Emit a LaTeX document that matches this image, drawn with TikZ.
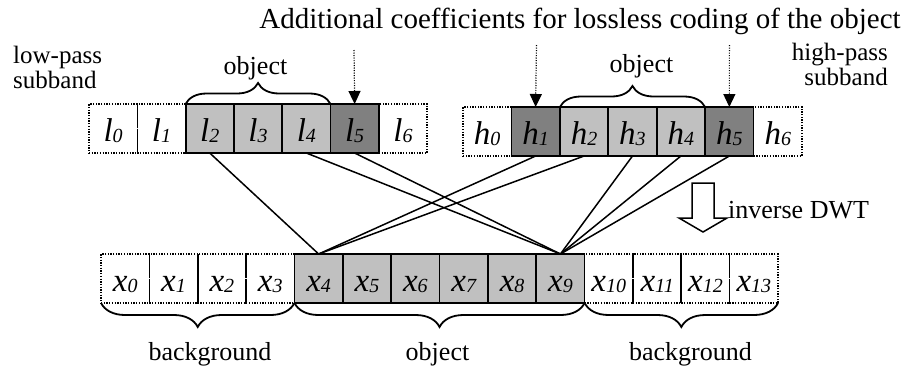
\documentclass[tikz,border=0pt]{standalone}
\usepackage{fontspec}
\setmainfont{Liberation Serif}
\usetikzlibrary{decorations.pathreplacing,arrows.meta}
\definecolor{lightg}{RGB}{192,192,192}
\definecolor{darkg}{RGB}{128,128,128}
\newcommand{\lab}[2]{{\fontsize{33}{33}\selectfont\itshape #1\raisebox{-1.5pt}{\fontsize{20}{20}\selectfont #2}}}
\begin{document}
\begin{tikzpicture}[x=1pt,y=-1pt,
  cellbox/.style={minimum width=48.3pt,minimum height=49pt,inner sep=0pt,outer sep=0pt,
                  text height=25pt,text depth=0pt,anchor=center},
  solidcell/.style={cellbox,draw=black,line width=1.8pt},
  dotcell/.style={cellbox,draw=black,line width=1.3pt,dash pattern=on 1.3pt off 1.4pt},
  lightcell/.style={solidcell,fill=lightg},
  darkcell/.style={solidcell,fill=darkg},
  lbl/.style={font=\fontsize{26}{26}\selectfont,inner sep=0pt},
  conn/.style={line width=1.5pt},
  darr/.style={line width=1.2pt,dash pattern=on 1.2pt off 1.3pt,
               -{Triangle[width=12pt,length=13pt]}},
  bracetop/.style={line width=1.8pt,decorate,decoration={brace,amplitude=21pt}},
  bracebot/.style={line width=1.8pt,decorate,decoration={brace,amplitude=24pt}}]
\useasboundingbox (0,0) rectangle (914,373);

% low-pass row
\foreach \i in {0,1,6}
  \node[dotcell] (l\i) at ({113.15+48.3*\i},128.5) {\lab{l}{\i}};
\foreach \i/\s in {2/lightcell,3/lightcell,4/lightcell,5/darkcell}
  \node[\s] (l\i) at ({113.15+48.3*\i},128.5) {\lab{l}{\i}};

% high-pass row
\foreach \i in {0,6}
  \node[dotcell] (h\i) at ({487.2+48.43*\i},131.5) {\lab{h}{\i}};
\foreach \i/\s in {1/darkcell,2/lightcell,3/lightcell,4/lightcell,5/darkcell}
  \node[\s] (h\i) at ({487.2+48.43*\i},131.5) {\lab{h}{\i}};

% reconstructed row
\foreach \i in {0,1,2,3,10,11,12,13}
  \node[dotcell] (x\i) at ({125.2+48.36*\i},278.5) {\lab{x}{\i}};
\foreach \i in {4,...,9}
  \node[lightcell] (x\i) at ({125.2+48.36*\i},278.5) {\lab{x}{\i}};
\draw[line width=1.8pt] (x2.north west) -- (x2.south west);
\draw[line width=1.8pt] (x12.north west) -- (x12.south west);

% connectors
\draw[conn] (l2.south) -- (x4.north);
\draw[conn] (l4.south) -- (x9.north);
\draw[conn] (l5.south) -- (x9.north);
\draw[conn] (h1.south) -- (x4.north);
\draw[conn] (h2.south) -- (x4.north);
\draw[conn] (h3.south) -- (x9.north);
\draw[conn] (h4.south) -- (x9.north);
\draw[conn] (h5.south) -- (x9.north);

% braces
\draw[bracetop] (l2.north west) -- (l4.north east);
\draw[bracetop] (h2.north west) -- (h4.north east);
\draw[bracebot] (x3.south east) -- (x0.south west);
\draw[bracebot] (x9.south east) -- (x4.south west);
\draw[bracebot] (x13.south east) -- (x10.south west);

% dotted arrows
\coordinate (p1) at (354,50);
\coordinate (p2) at (536.5,45);
\coordinate (p3) at (729.4,45);
\draw[darr] (p1) -- (l5.north);
\draw[darr] (p2) -- (h1.north);
\draw[darr] (p3) -- (h5.north);

% inverse DWT block arrow
\draw[line width=1.5pt,fill=white] (692,183) -- (714,183) -- (714,218) -- (727,218)
  -- (703,232) -- (679,218) -- (692,218) -- cycle;

% texts
\node[lbl,font=\fontsize{29}{29}\selectfont,anchor=base] (title) at (580,28)
  {Additional coefficients for lossless coding of the object};
\node[lbl,font=\fontsize{25}{25}\selectfont,anchor=base west] (lp1) at (13,63) {low-pass};
\node[lbl,font=\fontsize{25}{25}\selectfont,anchor=base west] (lp2) at (13,88) {subband};
\node[lbl,font=\fontsize{25}{25}\selectfont,anchor=base east] (hp1) at (888,60) {high-pass};
\node[lbl,font=\fontsize{25}{25}\selectfont,anchor=base east] (hp2) at (888,85) {subband};
\node[lbl,anchor=base] (objl) at (255.5,74) {object};
\node[lbl,anchor=base] (objh) at (641.5,72) {object};
\node[lbl,anchor=base west] (idwt) at (728,218) {inverse DWT};
\node[lbl,anchor=base] (bg1) at (210,360) {background};
\node[lbl,anchor=base] (objx) at (437.5,360) {object};
\node[lbl,anchor=base] (bg2) at (690.5,360) {background};
\end{tikzpicture}
\end{document}
